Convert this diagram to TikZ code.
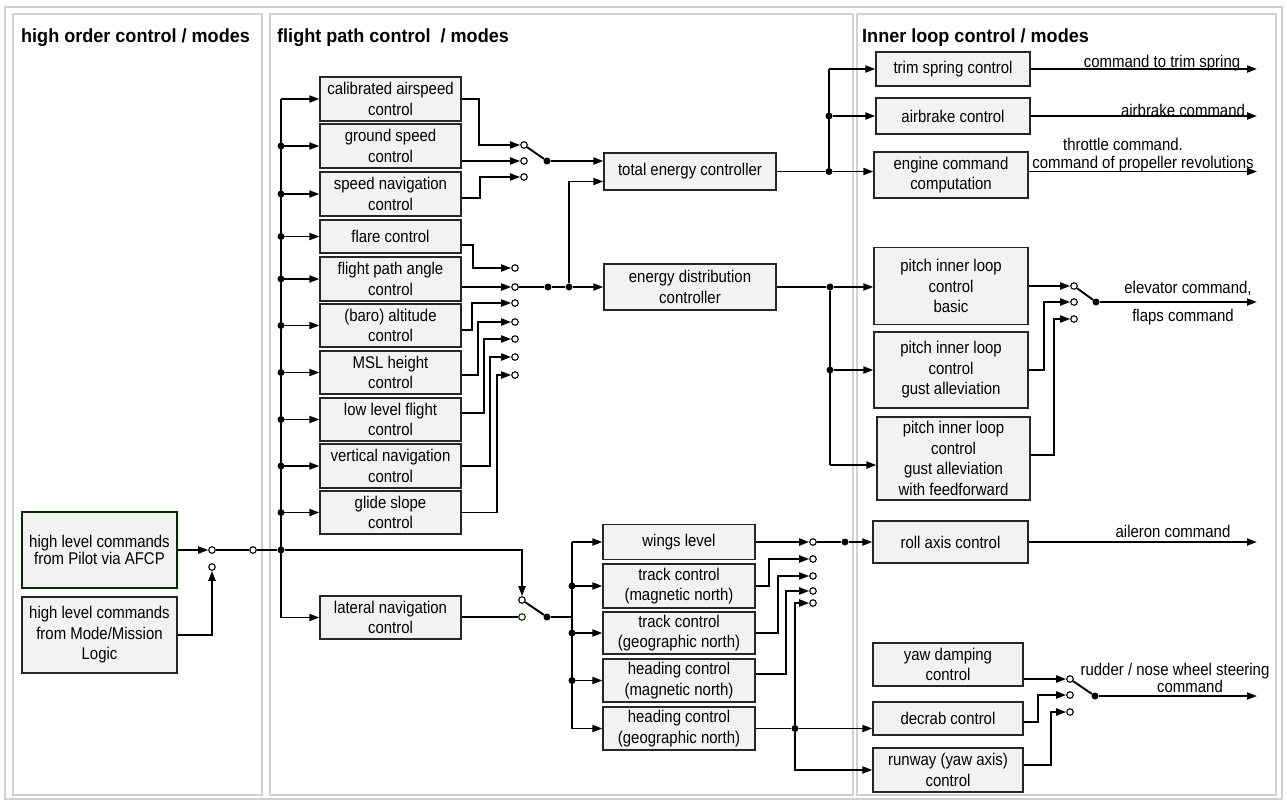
\documentclass[tikz,border=0pt]{standalone}
\usepackage{fontspec}
\setmainfont{Liberation Sans}[FakeStretch=0.88]
\newfontfamily\titlefont{Liberation Sans}[FakeStretch=0.95]
\usetikzlibrary{arrows.meta,calc}
\newcommand\mybox[6]{\node[blk,minimum width=#4pt,minimum height=#5pt] (#1) at (#2,#3) {#6};}
\begin{document}
\begin{tikzpicture}[x=1pt,y=-1pt,
  blk/.style={draw=black!85, fill=black!5, line width=1.3pt, align=center, inner sep=0pt, font=\fontsize{17}{20.5}\selectfont},
  wire/.style={line width=1.9pt},
  arr/.style={wire, -{Triangle[length=10pt,width=7pt]}},
  cont/.style={circle, draw, fill=white, line width=1.1pt, inner sep=0pt, minimum size=6.5pt},
  dot/.style={circle, fill, inner sep=0pt, minimum size=7pt},
  panel/.style={draw=black!18, line width=1.6pt},
  ttl/.style={anchor=base west, font=\titlefont\bfseries\fontsize{19}{22}\selectfont, inner sep=0pt},
  lbl/.style={font=\fontsize{17}{20}\selectfont, inner sep=0pt, align=center},
]
\useasboundingbox (0,0) rectangle (1287,801);
% frames
\draw[panel, line width=1.2pt] (5,7) rectangle (1282,799);
\draw[panel] (13,14) rectangle (262,795);
\draw[panel] (270,14) rectangle (853,795);
\draw[panel] (857,14) rectangle (1276,795);
\node[ttl] (t1) at (21,42) {high order control / modes};
\node[ttl] (t2) at (277,42) {flight path control\ \ / modes};
\node[ttl] (t3) at (862,42) {Inner loop control / modes};

% left column
\node[blk, draw=black!60!green!40!black, minimum width=155pt, minimum height=76pt, font=\fontsize{17}{17.5}\selectfont] (hp) at (99.5,550) {high level commands\\from Pilot via AFCP};
\mybox{hm}{99.5}{635}{155}{76}{high level commands\\from Mode/Mission\\Logic}
\node[cont] (h1) at (212,550) {};
\node[cont] (h2) at (212,567) {};
\node[cont] (h3) at (253,550) {};
\node[dot] (bj) at (281,550) {};
\draw[arr] (hp.east |- h1) -- (h1);
\draw[arr] (hm.east) -| (h2);
\draw[wire] (h1) -- (h3);
\draw[wire] (h3) -- (bj);

% flight path column
\mybox{cas}{390.5}{99}{141}{44}{calibrated airspeed\\control}
\mybox{gs}{390.5}{146}{141}{44}{ground speed\\control}
\mybox{snav}{390.5}{194}{141}{44}{speed navigation\\control}
\mybox{flare}{390.5}{236.5}{141}{33}{flare control}
\mybox{fpa}{390.5}{279}{141}{44}{flight path angle\\control}
\mybox{baro}{390.5}{325.5}{141}{43}{(baro) altitude\\control}
\mybox{msl}{390.5}{372.5}{141}{43}{MSL height\\control}
\mybox{lowl}{390.5}{419.5}{141}{43}{low level flight\\control}
\mybox{vnav}{390.5}{466}{141}{44}{vertical navigation\\control}
\mybox{gls}{390.5}{512.5}{141}{43}{glide slope\\control}
\mybox{lnav}{390.5}{617.5}{141}{43}{lateral navigation\\control}

\coordinate (bt) at (281,99);
\draw[arr] (bt) -- (cas.west);
\draw[wire] (bt) -- (bt |- lnav.west);
\draw[arr] (bt |- lnav.west) -- (lnav.west);
\foreach \n in {gs,snav,flare,fpa,baro,msl,lowl,vnav,gls}{
  \draw[arr] (bt |- \n.west) -- (\n.west);
  \node[dot] (d\n) at (bt |- \n.west) {};
}

% speed switch
\node[cont] (s1a) at (524,145) {};
\node[cont] (s1b) at (524,161) {};
\node[cont] (s1c) at (524,177) {};
\node[dot] (p1) at (547,161) {};
\draw[arr] (cas.east) -- ++(17,0) |- (s1a);
\draw[arr] (gs.east |- s1b) -- (s1b);
\draw[arr] ($(snav.east)+(0,4)$) -- ++(18,0) |- (s1c);
\draw[wire] (s1a) -- (p1);

% altitude switch
\node[cont] (a1) at (515,268) {};
\node[cont] (a2) at (515,287) {};
\node[cont] (a3) at (515,303) {};
\node[cont] (a4) at (515,322) {};
\node[cont] (a5) at (515,339) {};
\node[cont] (a6) at (515,357) {};
\node[cont] (a7) at (515,375) {};
\node[dot] (pa) at (548,287) {};
\node[dot] (jd) at (569,287) {};
\draw[arr] ($(flare.east)+(0,8.5)$) -- ++(11,0) |- (a1);
\draw[arr] (fpa.east |- a2) -- (a2);
\draw[arr] ($(baro.east)+(0,4.5)$) -- ++(10,0) |- (a3);
\draw[arr] ($(msl.east)+(0,2.5)$) -- ++(16,0) |- (a4);
\draw[arr] ($(lowl.east)+(0,-6.5)$) -- ++(22,0) |- (a5);
\draw[arr] (vnav.east) -- ++(28,0) |- (a6);
\draw[arr] (gls.east) -- ++(35,0) |- (a7);
\draw[wire] (a2) -- (pa) -- (jd);

% energy controllers
\mybox{tec}{690}{171.5}{172}{37}{total energy controller}
\mybox{ed}{690}{287}{172}{46}{energy distribution\\controller}
\draw[arr] (p1) -- (tec.west |- p1);
\draw[arr] (jd) -- (ed.west |- jd);
\draw[arr] (jd) |- ($(tec.west)+(0,10)$);

% inner loop top
\mybox{trim}{953}{69}{154}{34}{trim spring control}
\mybox{ab}{953}{116}{154}{36}{airbrake control}
\mybox{eng}{951}{175}{154}{46}{engine command\\computation}
\node[dot] (te) at (829,171.5) {};
\node[dot] (tab) at (829,116) {};
\draw[wire] (tec.east) -- (te);
\draw[arr] (te) -- (eng.west |- te);
\draw[wire] (te) -- (te |- trim.west);
\draw[arr] (te |- trim.west) -- (trim.west);
\draw[arr] (tab) -- (ab.west);
\coordinate (otr) at (1257,69);
\coordinate (oab) at (1257,116);
\coordinate (oen) at (1257,171.5);
\draw[arr] (trim.east) -- (otr);
\draw[arr] (ab.east) -- (oab);
\draw[arr] (eng.east |- te) -- (oen);
\node[lbl, anchor=base] (l1) at (1162,67) {command to trim spring};
\node[lbl, anchor=base] (l2) at (1183,116) {airbrake command};
\node[lbl, anchor=base] (l3) at (1123,150) {throttle command.};
\node[lbl, anchor=base] (l4) at (1143,168) {command of propeller revolutions};

% pitch
\mybox{pb}{951}{286}{154}{77}{pitch inner loop\\control\\basic}
\mybox{pg}{951}{370}{154}{76}{pitch inner loop\\control\\gust alleviation}
\mybox{pf}{953.5}{458.5}{153}{83}{pitch inner loop\\control\\gust alleviation\\with feedforward}
\node[dot] (pd) at (830,287) {};
\node[dot] (pgd) at (830,370) {};
\coordinate (pfi) at ($(pf.west)+(0,6.5)$);
\draw[wire] (ed.east) -- (pd);
\draw[arr] (pd) -- (pb.west |- pd);
\draw[wire] (pd) -- (pd |- pfi);
\draw[arr] (pgd) -- (pg.west);
\draw[arr] (pd |- pfi) -- (pfi);
\node[cont] (e1) at (1074,286) {};
\node[cont] (e2) at (1074,302) {};
\node[cont] (e3) at (1074,319) {};
\node[dot] (pe) at (1096,302) {};
\coordinate (oel) at (1257,302);
\draw[arr] (pb.east) -- (e1);
\draw[arr] (pg.east) -- ++(15,0) |- (e2);
\draw[arr] ($(pf.east)+(0,-3.5)$) -- ++(23,0) |- (e3);
\draw[wire] (e1) -- (pe);
\draw[arr] (pe) -- (oel);
\node[lbl, anchor=base] (l5) at (1188,293) {elevator command,};
\node[lbl, anchor=base] (l6) at (1183,321) {flaps command};

% lateral switch
\node[cont] (sl1) at (522,600) {};
\node[cont, draw=black!60!green!50!black] (sl2) at (522,617) {};
\node[dot] (pl) at (547,617) {};
\draw[arr] (bj) -| (sl1);
\draw[wire] (lnav.east |- sl2) -- (sl2);
\draw[wire] (sl1) -- (pl);

% lateral column
\mybox{wl}{679}{542}{152}{35}{wings level}
\mybox{tm}{679}{586}{152}{44}{track control\\(magnetic north)}
\mybox{tg}{679}{633}{152}{42}{track control\\(geographic north)}
\mybox{hdm}{679}{680.5}{152}{43}{heading control\\(magnetic north)}
\mybox{hdg}{679}{728.5}{152}{43}{heading control\\(geographic north)}
\coordinate (b2) at (572,542);
\draw[wire] (pl) -- (pl -| b2);
\draw[arr] (b2) -- (wl.west);
\draw[wire] (b2) -- (b2 |- hdg.west);
\draw[arr] (b2 |- hdg.west) -- (hdg.west);
\foreach \n in {tm,tg,hdm}{
  \draw[arr] (b2 |- \n.west) -- (\n.west);
  \node[dot] (d\n) at (b2 |- \n.west) {};
}
\node[cont] (w1) at (813,542) {};
\node[cont] (w2) at (813,559) {};
\node[cont] (w3) at (813,576) {};
\node[cont] (w4) at (813,591) {};
\node[cont] (w5) at (813,603) {};
\node[dot] (wd) at (845,542) {};
\node[dot] (hd) at (795,728.5) {};
\draw[arr] (wl.east) -- (w1);
\draw[wire] (w1) -- (wd);
\draw[arr] (tm.east) -- ++(13,0) |- (w2);
\draw[arr] (tg.east) -- ++(22,0) |- (w3);
\draw[arr] ($(hdm.east)+(0,-6.5)$) -- ++(30,0) |- (w4);
\draw[wire] (hdg.east) -- (hd);

% roll / yaw
\mybox{ra}{950.5}{542}{155}{42}{roll axis control}
\mybox{yd}{948}{664.5}{150}{43}{yaw damping\\control}
\mybox{dc}{948}{718.5}{150}{33}{decrab control}
\mybox{rw}{948}{770}{150}{44}{runway (yaw axis)\\control}
\coordinate (oai) at (1257,542);
\draw[arr] (wd) -- (ra.west);
\draw[arr] (ra.east) -- (oai);
\node[lbl, anchor=base] (l7) at (1173,537) {aileron command};
\draw[arr] (hd) -- (dc.west |- hd);
\draw[arr] (hd) |- (w5);
\draw[arr] (hd) |- (rw.west);
\node[cont] (r1) at (1070,679) {};
\node[cont] (r2) at (1070,695) {};
\node[cont] (r3) at (1070,712) {};
\node[dot] (pr) at (1095,696) {};
\coordinate (oru) at (1257,696);
\draw[arr] (yd.east |- r1) -- (r1);
\draw[arr] ($(dc.east)+(0,3.5)$) -- ++(14,0) |- (r2);
\draw[arr] ($(rw.east)+(0,-5)$) -- ++(27,0) |- (r3);
\draw[wire] (r1) -- (pr);
\draw[arr] (pr) -- (oru);
\node[lbl, anchor=base] (l8) at (1175,675) {rudder / nose wheel steering};
\node[lbl, anchor=base] (l9) at (1190,692) {command};
\end{tikzpicture}
\end{document}
